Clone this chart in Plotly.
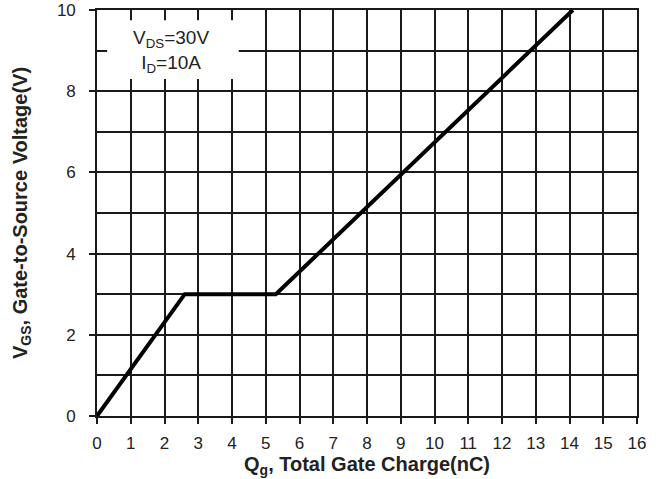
import plotly.graph_objects as go

# Gate charge curve: VGS vs total gate charge Qg
qg_nc = [0.0, 2.6, 5.3, 14.1]
vgs_v = [0.0, 3.0, 3.0, 10.0]

x_ticks = list(range(0, 17))
y_ticks = [0, 2, 4, 6, 8, 10]

FONT = "Arial, Liberation Sans, sans-serif"

fig = go.Figure()
fig.add_trace(go.Scatter(
    x=qg_nc, y=vgs_v, mode="lines",
    line=dict(color="black", width=4),
    showlegend=False, hoverinfo="skip", cliponaxis=False,
))

# white label box with test conditions
fig.add_shape(type="rect", xref="x", yref="y", x0=0.3, x1=4.2, y0=8.3, y1=9.75,
              fillcolor="white", line=dict(width=0), layer="between")
fig.add_annotation(x=2.2, y=8.97, xref="x", yref="y", showarrow=False,
                   text="V<sub>DS</sub>=30V<br>I<sub>D</sub>=10A",
                   font=dict(family=FONT, size=19, color="#222"), align="center")

axis_common = dict(
    showline=True, linecolor="#1a1a1a", linewidth=1.6, mirror=True,
    showgrid=True, gridcolor="#1a1a1a", gridwidth=1.6,
    ticks="outside", ticklen=6, tickwidth=1.6, tickcolor="#1a1a1a",
    tickfont=dict(family=FONT, size=17, color="#222"),
    zeroline=False, automargin=False,
)

fig.update_xaxes(
    range=[0, 16], tickvals=x_ticks, ticktext=[str(v) for v in x_ticks],
    ticklabelstandoff=5,
    title=dict(text="<b>Q<sub>g</sub>, Total Gate Charge(nC)</b>",
               font=dict(family=FONT, size=20, color="#222"), standoff=4),
    **axis_common,
)
fig.update_yaxes(
    range=[0, 10], tickvals=y_ticks, ticktext=[str(v) for v in y_ticks],
    ticklabelstandoff=10,
    minor=dict(dtick=1, showgrid=True, gridcolor="#1a1a1a", gridwidth=1.6, ticks=""),
    title=dict(text="<b>V<sub>GS</sub>, Gate-to-Source Voltage(V)</b>",
               font=dict(family=FONT, size=20, color="#222"), standoff=24),
    **axis_common,
)

fig.update_layout(
    width=665, height=479,
    margin=dict(l=97, r=28, t=10, b=63),
    paper_bgcolor="white", plot_bgcolor="white",
)

fig.write_html("out.html")
